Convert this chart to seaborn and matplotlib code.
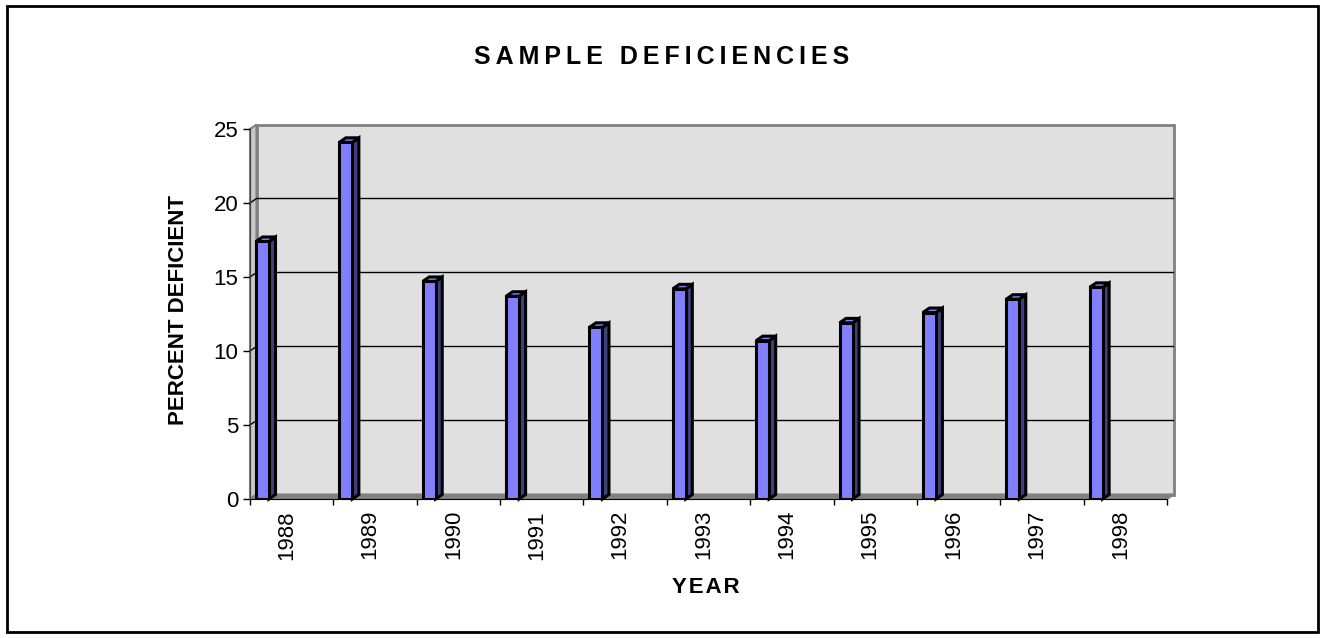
import matplotlib
matplotlib.use("Agg")
import pandas as pd
import matplotlib.pyplot as plt
import seaborn as sns
from matplotlib.patches import Polygon, Rectangle

# values
years = ['1988', '1989', '1990', '1991', '1992', '1993', '1994', '1995', '1996', '1997', '1998']
percent_deficient = [17.4, 24.1, 14.7, 13.7, 11.6, 14.2, 10.7, 11.9, 12.6, 13.5, 14.3]
y_ticks = [0, 5, 10, 15, 20, 25]

FRONT = '#8080FF'
SIDE = '#40407F'
WALL = '#E0E0E0'
SIDE_WALL = '#C8C8C8'
FLOOR = '#808080'
EDGE_GRAY = '#808080'

sns.set_style('white')
plt.rcParams['font.family'] = ['Liberation Sans', 'DejaVu Sans']
plt.rcParams['text.color'] = 'black'
plt.rcParams['axes.labelcolor'] = 'black'
plt.rcParams['xtick.color'] = 'black'
plt.rcParams['ytick.color'] = 'black'

fig = plt.figure(figsize=(13.24, 6.38), dpi=100)
ax = fig.add_axes([250 / 1324, 139 / 638, 917 / 1324, 370 / 638])

df = pd.DataFrame({'Year': years, 'Percent': percent_deficient})
sns.barplot(data=df, x='Year', y='Percent', color=FRONT, saturation=1,
            width=0.156, edgecolor='black', linewidth=2.2, ax=ax, zorder=3)
bars = list(ax.patches)

x0, x1 = -0.15, len(years) - 0.15
y_top = y_ticks[-1]
ax.set_xlim(x0, x1)
ax.set_ylim(0, y_top)
ax.patch.set_alpha(0)

# fake 3D depth (in data units)
dx = 6.5 / (917 / len(years))
dy = 4.5 / (370 / y_top)

# back wall, left wall, floor
ax.add_patch(Rectangle((x0 + dx, dy), x1 - x0, y_top, facecolor=WALL,
                       edgecolor=EDGE_GRAY, lw=2, zorder=0, clip_on=False))
ax.add_patch(Polygon([(x0, 0), (x0 + dx, dy), (x0 + dx, y_top + dy), (x0, y_top)],
                     facecolor=SIDE_WALL, edgecolor=EDGE_GRAY, lw=1.5, zorder=0, clip_on=False))
ax.add_patch(Polygon([(x0, 0), (x1, 0), (x1 + dx, dy), (x0 + dx, dy)],
                     facecolor=FLOOR, edgecolor=FLOOR, lw=1.5, zorder=1, clip_on=False))

# gridlines on the walls
for v in y_ticks[1:-1]:
    ax.plot([x0, x0 + dx, x1 + dx], [v, v + dy, v + dy], color='black', lw=1,
            zorder=1, clip_on=False)

# side and top faces of each column
for p in bars:
    bx, bw, bh = p.get_x(), p.get_width(), p.get_height()
    ax.add_patch(Polygon([(bx + bw, 0), (bx + bw + dx, dy), (bx + bw + dx, bh + dy), (bx + bw, bh)],
                         facecolor=SIDE, edgecolor='black', lw=2.2, zorder=2.9, clip_on=False))
    ax.add_patch(Polygon([(bx, bh), (bx + bw, bh), (bx + bw + dx, bh + dy), (bx + dx, bh + dy)],
                         facecolor=FRONT, edgecolor='black', lw=2.2, zorder=2.9, clip_on=False))

# axes styling
for side in ['top', 'right']:
    ax.spines[side].set_visible(False)
ax.spines['left'].set_color('#404040')
ax.spines['bottom'].set_color('black')
ax.spines['left'].set_zorder(4)
ax.spines['bottom'].set_zorder(4)

ax.set_yticks(y_ticks)
ax.tick_params(axis='y', length=5, width=1, pad=3.5, labelsize=16, left=True)

bounds = [x0 + i for i in range(len(years) + 1)]
centers = [i + 0.29 for i in range(len(years))]
ax.set_xticks(bounds)
ax.set_xticklabels([])
ax.set_xticks(centers, minor=True)
ax.set_xticklabels(years, minor=True, rotation=90)
ax.tick_params(axis='x', which='major', length=4.5, width=1, bottom=True)
ax.tick_params(axis='x', which='minor', length=0, pad=8, labelsize=16)

ax.set_ylabel('PERCENT DEFICIENT', fontsize=16, fontweight='bold', va='center')
ax.yaxis.set_label_coords(-0.0785, 0.511)
ax.set_xlabel('Y\u200aE\u200aA\u200aR', fontsize=16, fontweight='bold', va='center')
ax.xaxis.set_label_coords(0.497, -0.238)

title = '\u2009'.join('SAMPLE DEFICIENCIES')
fig.text(0.5, 1 - 57.5 / 638, title, ha='center', va='center', fontsize=18, fontweight='bold')

# outer chart border
fig.patches.append(Rectangle((7 / 1324, 6 / 638), 1311 / 1324, 626 / 638, transform=fig.transFigure,
                             fill=False, edgecolor='black', lw=2))

fig.savefig('out.png', dpi=100)
